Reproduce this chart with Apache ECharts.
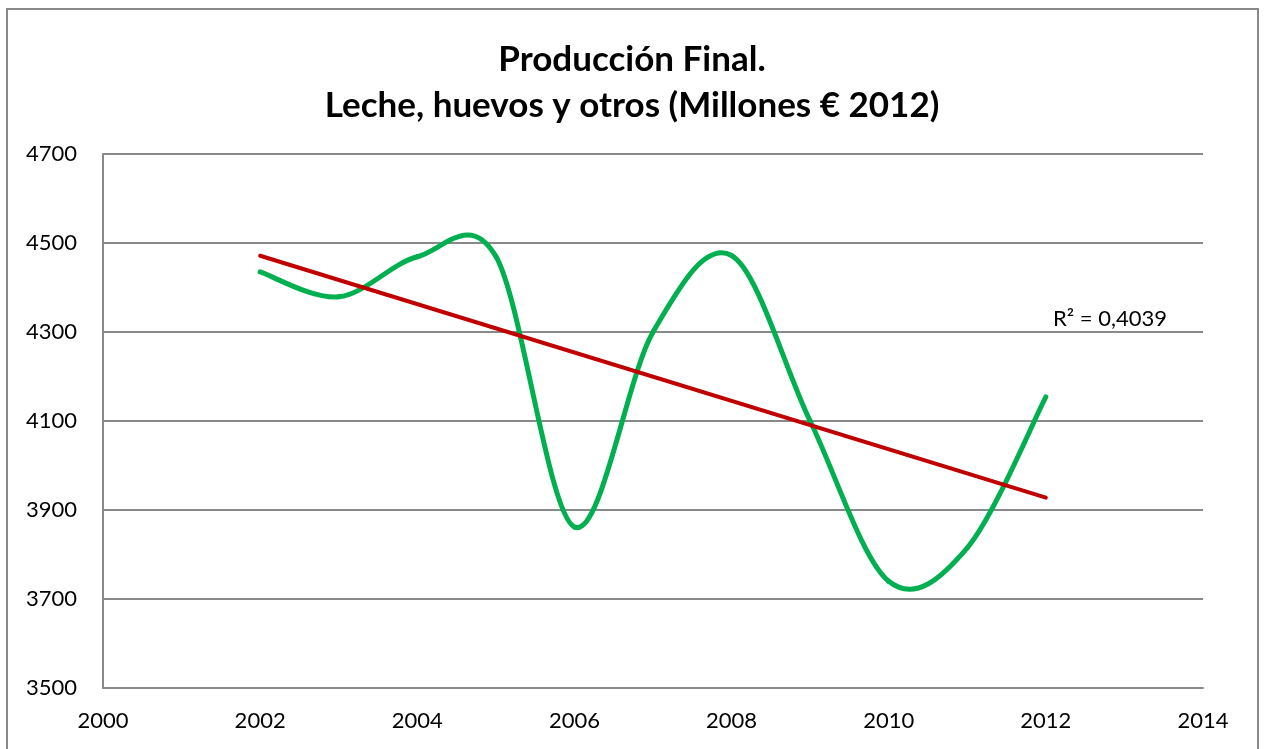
<!DOCTYPE html>
<html>
<head>
<meta charset="utf-8">
<script src="https://cdn.jsdelivr.net/npm/echarts@6/dist/echarts.min.js"></script>
<style>
  html, body { margin: 0; padding: 0; background: #fff; }
  #chart { width: 1264px; height: 749px; }
</style>
</head>
<body>
<div id="chart"></div>
<script>
// datos
var years = [2002, 2003, 2004, 2005, 2006, 2007, 2008, 2009, 2010, 2011, 2012];
var produccion = [4435, 4379, 4469, 4470, 3862, 4300, 4472, 4100, 3740, 3815, 4154];
var xTicks = [2000, 2014];
var yTicks = [3500, 4700];
var r2Label = 'R² = 0,4039';

// tendencia lineal (mínimos cuadrados) a partir de los datos
function linearTrend(xs, ys) {
  var n = xs.length, mx = 0, my = 0;
  for (var i = 0; i < n; i++) { mx += xs[i]; my += ys[i]; }
  mx /= n; my /= n;
  var sxy = 0, sxx = 0;
  for (var j = 0; j < n; j++) {
    sxy += (xs[j] - mx) * (ys[j] - my);
    sxx += (xs[j] - mx) * (xs[j] - mx);
  }
  var b = sxy / sxx, a = my - b * mx;
  return [[xs[0], a + b * xs[0]], [xs[n - 1], a + b * xs[n - 1]]];
}

// curva suavizada tipo Excel (Catmull-Rom) entre cada par de puntos
function renderSmooth(params, api) {
  var i = params.dataIndex, n = years.length;
  if (i >= n - 1) return null;
  var pt = function (k) {
    k = Math.max(0, Math.min(n - 1, k));
    return api.coord([years[k], produccion[k]]);
  };
  var p0 = pt(i - 1), p1 = pt(i), p2 = pt(i + 1), p3 = pt(i + 2);
  return {
    type: 'bezierCurve',
    shape: {
      x1: p1[0], y1: p1[1], x2: p2[0], y2: p2[1],
      cpx1: p1[0] + (p2[0] - p0[0]) / 6, cpy1: p1[1] + (p2[1] - p0[1]) / 6,
      cpx2: p2[0] - (p3[0] - p1[0]) / 6, cpy2: p2[1] - (p3[1] - p1[1]) / 6
    },
    style: { fill: null, stroke: '#00b050', lineWidth: 5, lineCap: 'round' }
  };
}

var chart = echarts.init(document.getElementById('chart'));
var font = 'Lato';

var option = {
  animation: false,
  title: {
    text: 'Producción Final.\nLeche, huevos y otros (Millones € 2012)',
    left: 'center',
    top: 32,
    textStyle: { fontFamily: font, fontWeight: 'bold', fontSize: 35, lineHeight: 46, color: '#000' }
  },
  grid: { left: 103, right: 61, top: 154, bottom: 61 },
  xAxis: {
    type: 'value',
    min: xTicks[0], max: xTicks[1], interval: 2,
    axisLine: { show: true, lineStyle: { color: '#898989', width: 2 } },
    axisTick: { show: false },
    splitLine: { show: false },
    axisLabel: { fontFamily: font, fontSize: 22, color: '#000', margin: 22, formatter: function (v) { return String(v); } }
  },
  yAxis: {
    type: 'value',
    min: yTicks[0], max: yTicks[1], interval: 200,
    axisLine: { show: true, lineStyle: { color: '#898989', width: 2 } },
    axisTick: { show: false },
    splitLine: { show: true, lineStyle: { color: '#898989', width: 2 } },
    axisLabel: { fontFamily: font, fontSize: 22, color: '#000', margin: 26, formatter: function (v) { return String(v); } }
  },
  series: [
    {
      name: 'Producción',
      type: 'custom',
      data: years.map(function (y, i) { return [y, produccion[i]]; }),
      encode: { x: 0, y: 1 },
      renderItem: renderSmooth,
      z: 2
    },
    {
      name: 'Tendencia',
      type: 'line',
      data: linearTrend(years, produccion),
      showSymbol: false,
      lineStyle: { color: '#c00000', width: 4, cap: 'round' },
      z: 3
    }
  ],
  graphic: [
    {
      type: 'rect',
      shape: { x: 7, y: 9, width: 1251, height: 800 },
      style: { fill: 'none', stroke: '#898989', lineWidth: 2 },
      silent: true
    },
    {
      type: 'text',
      left: 1053, top: 308,
      style: { text: r2Label, fontFamily: font, fontSize: 22, fill: '#000' }
    }
  ]
};

chart.setOption(option);
</script>
</body>
</html>
